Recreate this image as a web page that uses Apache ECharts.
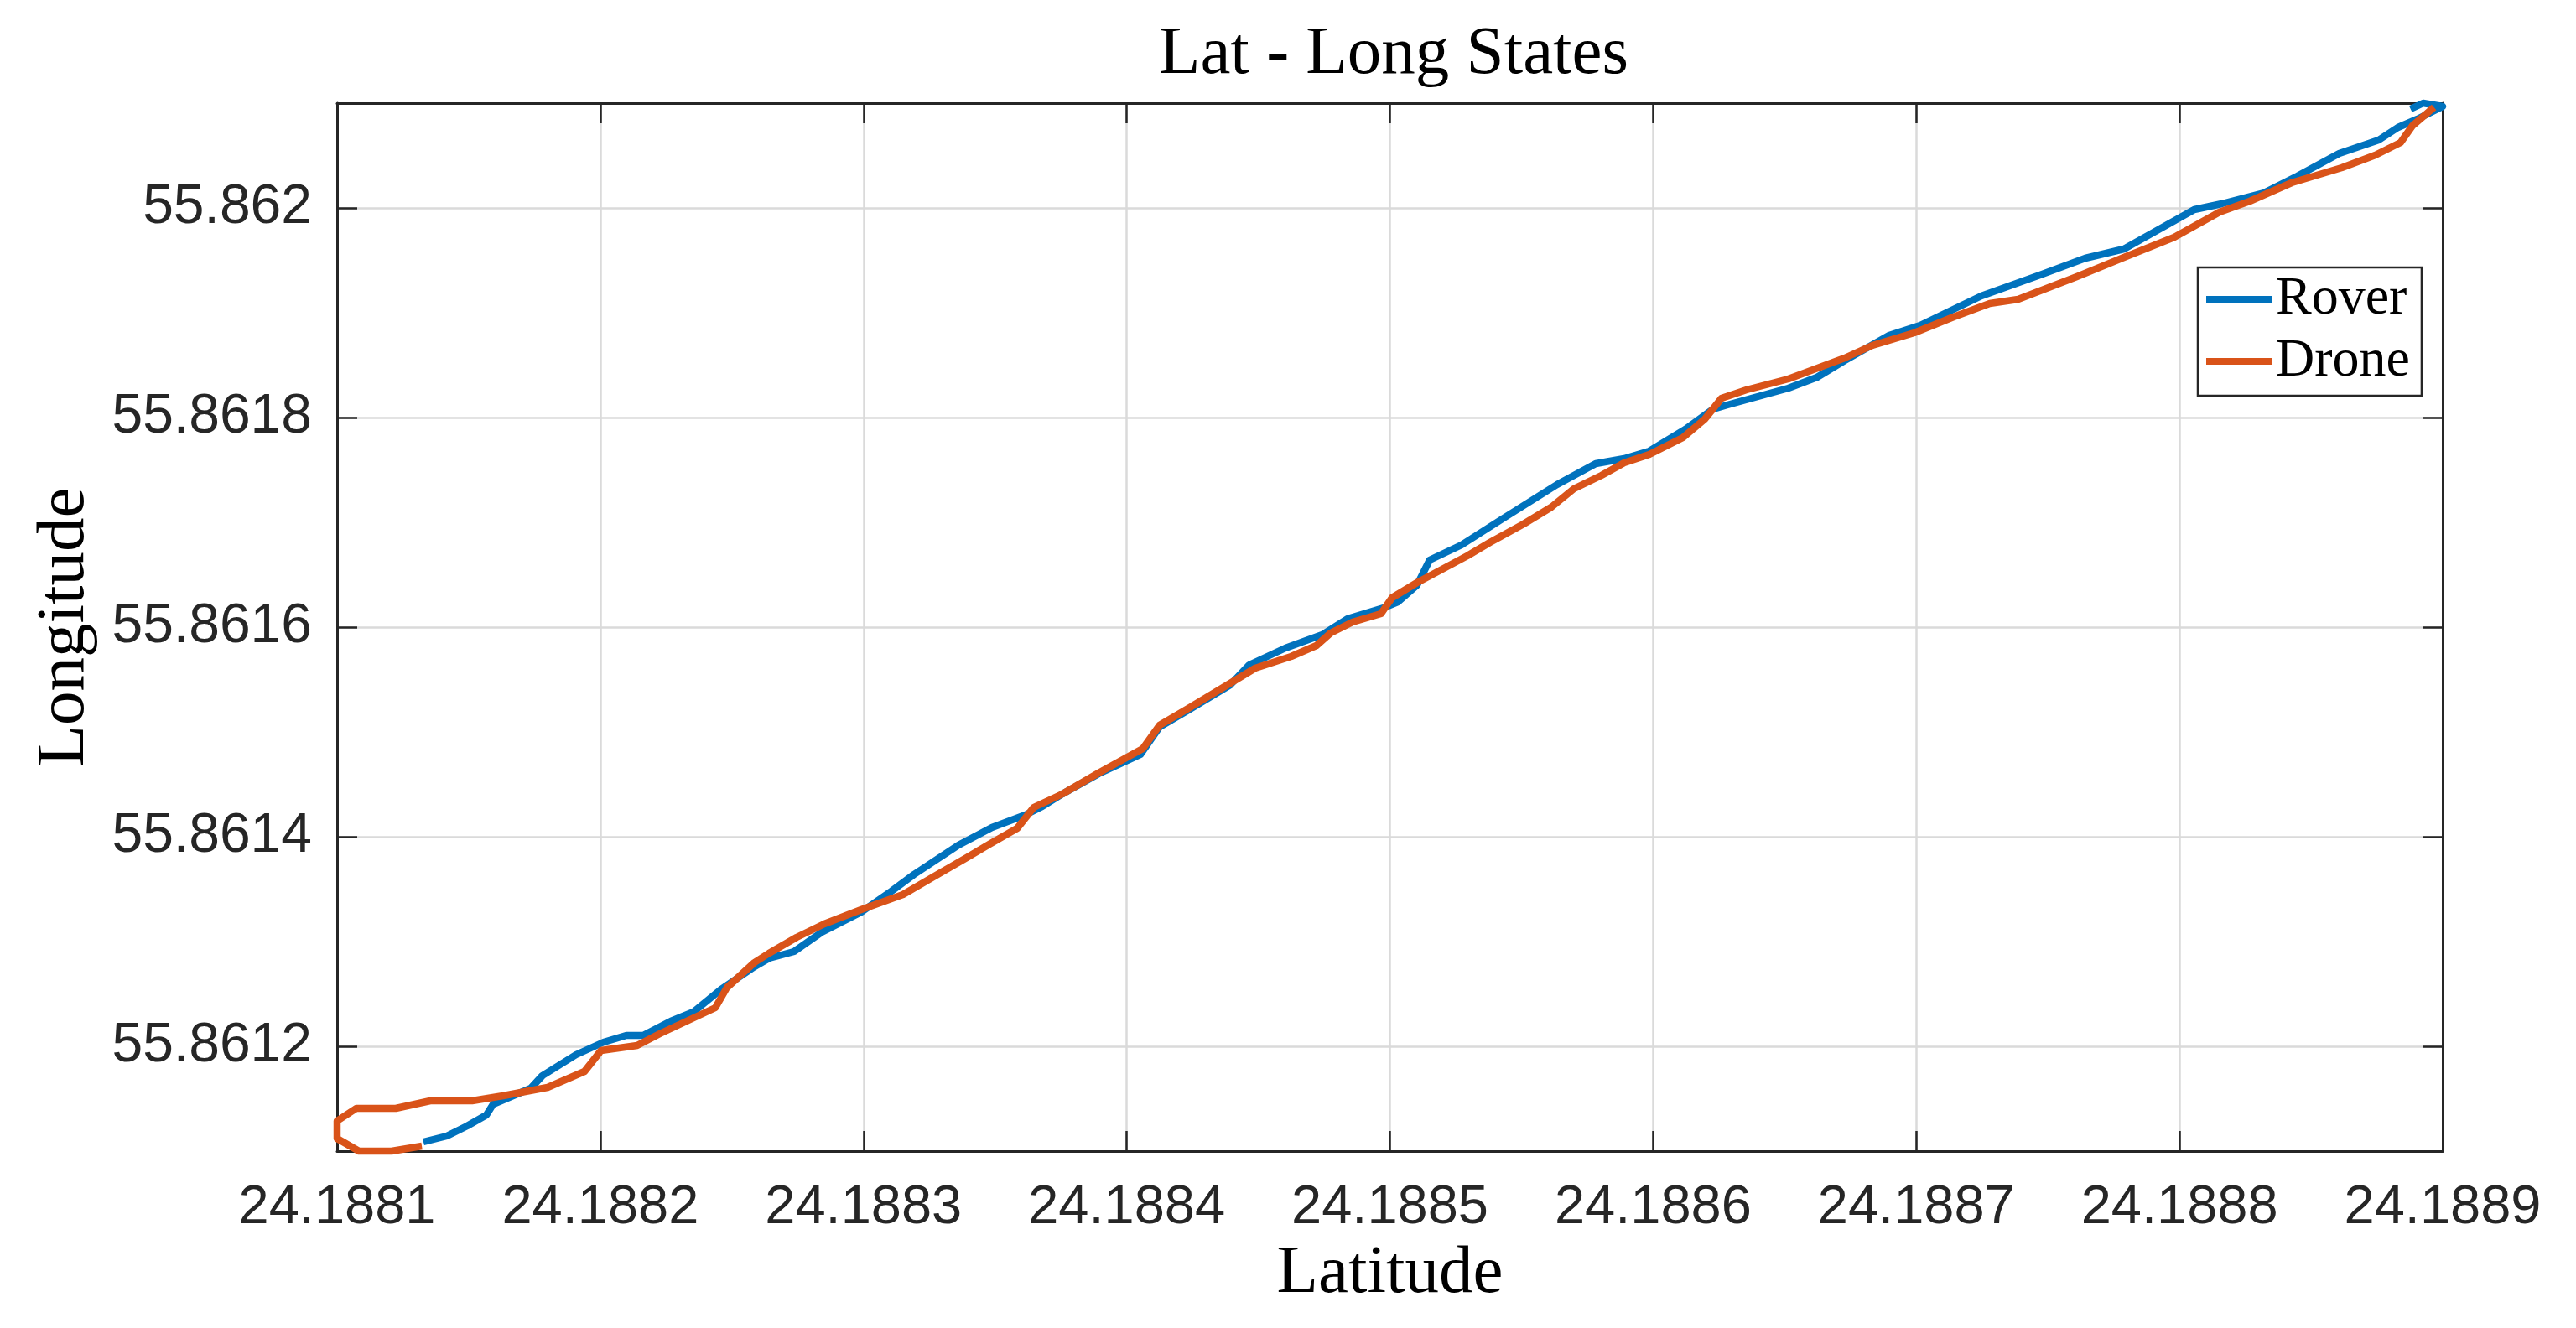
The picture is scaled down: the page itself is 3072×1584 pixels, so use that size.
<!DOCTYPE html>
<html>
<head>
<meta charset="utf-8">
<script src="https://cdn.jsdelivr.net/npm/echarts@6/dist/echarts.min.js"></script>
<style>
html,body{margin:0;padding:0;background:#fff;}
#chart{width:3072px;height:1584px;}
</style>
</head>
<body>
<div id="chart"></div>
<script>
// ---- Data ----
const titleText = 'Lat - Long States';
const xName = 'Latitude';
const yName = 'Longitude';
const seriesNames = ['Rover', 'Drone'];

const xTicks = [24.1881, 24.1882, 24.1883, 24.1884, 24.1885, 24.1886, 24.1887, 24.1888, 24.1889];
const yTicks = [55.8612, 55.8614, 55.8616, 55.8618, 55.862];
const xMin = 24.1881, xMax = 24.1889;
const yMin = 55.8611, yMax = 55.8621;

const roverLat = [
 24.1881328, 24.1881417, 24.1881494, 24.1881567, 24.1881593, 24.1881631, 24.1881736, 24.1881780,
 24.1881908, 24.1882013, 24.1882099, 24.1882163, 24.1882268, 24.1882354, 24.1882459, 24.1882586,
 24.1882641, 24.1882736, 24.1882841, 24.1882991, 24.1883106, 24.1883192, 24.1883361, 24.1883488,
 24.1883615, 24.1883679, 24.1883756, 24.1883893, 24.1884052, 24.1884125, 24.1884234, 24.1884393,
 24.1884466, 24.1884603, 24.1884743, 24.1884839, 24.1884976, 24.1885030, 24.1885103, 24.1885151,
 24.1885272, 24.1885422, 24.1885635, 24.1885782, 24.1885890, 24.1885986, 24.1886123, 24.1886228,
 24.1886282, 24.1886514, 24.1886623, 24.1886728, 24.1886897, 24.1887015, 24.1887247, 24.1887470,
 24.1887642, 24.1887789, 24.1888056, 24.1888161, 24.1888321, 24.1888448, 24.1888607, 24.1888757,
 24.1888830, 24.1888904, 24.1889000, 24.1888926, 24.1888878
];
const roverLon = [
 55.8611088, 55.8611144, 55.8611240, 55.8611344, 55.8611448, 55.8611488, 55.8611600, 55.8611720,
 55.8611920, 55.8612040, 55.8612104, 55.8612104, 55.8612240, 55.8612328, 55.8612544, 55.8612760,
 55.8612840, 55.8612904, 55.8613088, 55.8613280, 55.8613480, 55.8613640, 55.8613920, 55.8614088,
 55.8614208, 55.8614288, 55.8614408, 55.8614600, 55.8614784, 55.8615048, 55.8615208, 55.8615448,
 55.8615640, 55.8615800, 55.8615928, 55.8616080, 55.8616184, 55.8616240, 55.8616400, 55.8616640,
 55.8616784, 55.8617024, 55.8617360, 55.8617560, 55.8617608, 55.8617680, 55.8617888, 55.8618080,
 55.8618120, 55.8618280, 55.8618384, 55.8618544, 55.8618784, 55.8618880, 55.8619160, 55.8619360,
 55.8619520, 55.8619608, 55.8619984, 55.8620040, 55.8620144, 55.8620304, 55.8620520, 55.8620648,
 55.8620768, 55.8620848, 55.8620968, 55.8621000, 55.8620944
];

const droneLat = [
 24.1881322, 24.1881207, 24.1881083, 24.1881000, 24.1881000, 24.1881073, 24.1881223, 24.1881354,
 24.1881513, 24.1881631, 24.1881800, 24.1881940, 24.1882003, 24.1882140, 24.1882226, 24.1882437,
 24.1882481, 24.1882586, 24.1882641, 24.1882746, 24.1882851, 24.1882991, 24.1883150, 24.1883287,
 24.1883392, 24.1883478, 24.1883584, 24.1883647, 24.1883756, 24.1883893, 24.1884061, 24.1884125,
 24.1884234, 24.1884393, 24.1884488, 24.1884625, 24.1884721, 24.1884775, 24.1884858, 24.1884966,
 24.1885008, 24.1885103, 24.1885294, 24.1885380, 24.1885508, 24.1885613, 24.1885699, 24.1885804,
 24.1885890, 24.1885986, 24.1886113, 24.1886196, 24.1886260, 24.1886355, 24.1886514, 24.1886728,
 24.1886833, 24.1886992, 24.1887142, 24.1887279, 24.1887387, 24.1887610, 24.1887789, 24.1887980,
 24.1888152, 24.1888267, 24.1888426, 24.1888617, 24.1888744, 24.1888840, 24.1888885, 24.1888967
];
const droneLon = [
 55.8611048, 55.8611000, 55.8611000, 55.8611120, 55.8611288, 55.8611408, 55.8611408, 55.8611480,
 55.8611480, 55.8611528, 55.8611608, 55.8611760, 55.8611960, 55.8612008, 55.8612120, 55.8612368,
 55.8612560, 55.8612800, 55.8612888, 55.8613040, 55.8613168, 55.8613304, 55.8613448, 55.8613648,
 55.8613800, 55.8613928, 55.8614080, 55.8614280, 55.8614408, 55.8614608, 55.8614840, 55.8615064,
 55.8615224, 55.8615464, 55.8615608, 55.8615720, 55.8615824, 55.8615944, 55.8616048, 55.8616128,
 55.8616280, 55.8616424, 55.8616680, 55.8616808, 55.8616984, 55.8617144, 55.8617320, 55.8617448,
 55.8617568, 55.8617648, 55.8617808, 55.8617984, 55.8618184, 55.8618264, 55.8618368, 55.8618568,
 55.8618688, 55.8618808, 55.8618960, 55.8619088, 55.8619128, 55.8619344, 55.8619528, 55.8619720,
 55.8619960, 55.8620064, 55.8620240, 55.8620384, 55.8620504, 55.8620624, 55.8620784, 55.8620960
];

// ---- Chart ----
const zip = (a, b) => a.map((v, i) => [v, b[i]]);
const axisColor = '#262626';
const gridColor = '#dadada';
const tickFont = 'Liberation Sans, Arial, sans-serif';
const serifFont = 'Liberation Serif, Times New Roman, serif';
const fmtY = v => String(parseFloat(Number(v).toFixed(4)));
const fmtX = v => Number(v).toFixed(4);

const chart = echarts.init(document.getElementById('chart'), null, {renderer: 'canvas'});
const commonX = {
  type: 'value', min: xMin, max: xMax, interval: 0.0001,
  axisLine: {show: true, onZero: false, lineStyle: {color: axisColor, width: 3}},
  axisTick: {show: true, inside: true, length: 24, lineStyle: {color: axisColor, width: 2.5}, customValues: xTicks},
};
const commonY = {
  type: 'value', min: yMin, max: yMax,
  axisLine: {show: true, onZero: false, lineStyle: {color: axisColor, width: 3}},
  axisTick: {show: true, inside: true, length: 24, lineStyle: {color: axisColor, width: 2.5}, customValues: yTicks},
};
chart.setOption({
  animation: false,
  backgroundColor: '#fff',
  title: {
    text: titleText, left: 1657, top: 20, textAlign: 'center',
    textStyle: {fontFamily: serifFont, fontSize: 81, fontWeight: 'normal', color: '#000'}
  },
  grid: {left: 402, right: 159, top: 123, bottom: 211, containLabel: false},
  legend: {
    orient: 'vertical', left: 2621, top: 319,
    data: seriesNames, icon: 'rect', itemWidth: 78, itemHeight: 8, itemGap: 10,
    padding: [6, 14, 9, 10],
    borderColor: axisColor, borderWidth: 2.5, backgroundColor: '#fff',
    textStyle: {fontFamily: serifFont, fontSize: 64, lineHeight: 64, color: '#000'}
  },
  xAxis: [
    Object.assign({}, commonX, {
      position: 'bottom',
      name: xName, nameLocation: 'middle', nameGap: 104,
      nameTextStyle: {fontFamily: serifFont, fontSize: 81, color: '#000'},
      axisLabel: {show: true, margin: 36, fontFamily: tickFont, fontSize: 65, color: axisColor,
        formatter: fmtX, customValues: xTicks, showMinLabel: true, showMaxLabel: true},
      splitLine: {show: true, lineStyle: {color: gridColor, width: 2.5}}
    }),
    Object.assign({}, commonX, {
      position: 'top', axisLabel: {show: false}, splitLine: {show: false}
    })
  ],
  yAxis: [
    Object.assign({}, commonY, {
      position: 'left',
      name: yName, nameLocation: 'middle', nameGap: 284, nameRotate: 90,
      nameTextStyle: {fontFamily: serifFont, fontSize: 81, color: '#000'},
      axisLabel: {show: true, margin: 30, fontFamily: tickFont, fontSize: 66, color: axisColor,
        formatter: fmtY, customValues: yTicks},
      splitLine: {show: true, lineStyle: {color: gridColor, width: 2.5}}
    }),
    Object.assign({}, commonY, {
      position: 'right', axisLabel: {show: false}, splitLine: {show: false}
    })
  ],
  series: [
    {
      name: seriesNames[0], type: 'line', xAxisIndex: 0, yAxisIndex: 0,
      data: zip(roverLat, roverLon), showSymbol: false, symbol: 'none', clip: false,
      lineStyle: {color: '#0072BD', width: 8.5, join: 'round'}, itemStyle: {color: '#0072BD'}, z: 3
    },
    {
      name: seriesNames[1], type: 'line', xAxisIndex: 0, yAxisIndex: 0,
      data: zip(droneLat, droneLon), showSymbol: false, symbol: 'none', clip: false,
      lineStyle: {color: '#D95319', width: 8.5, join: 'round'}, itemStyle: {color: '#D95319'}, z: 4
    }
  ]
});
</script>
</body>
</html>
